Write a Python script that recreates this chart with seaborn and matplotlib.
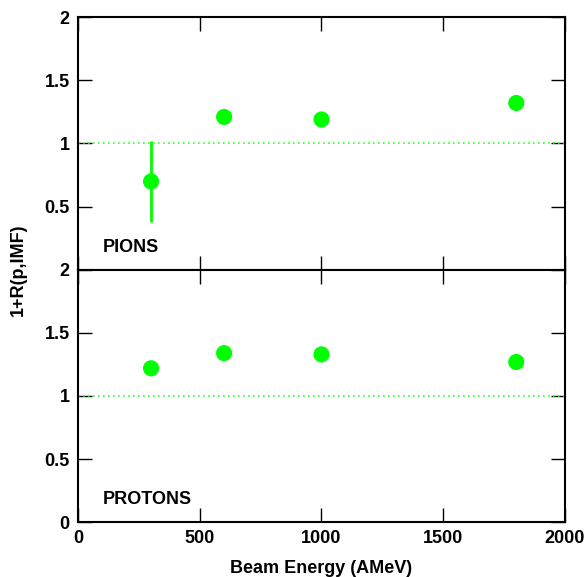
import matplotlib
matplotlib.use("Agg")
import matplotlib.pyplot as plt
import seaborn as sns
import pandas as pd

energy = [300, 600, 1000, 1800]
pions = [0.70, 1.21, 1.19, 1.32]
pions_err = [0.32, 0.0, 0.0, 0.0]
protons = [1.22, 1.34, 1.33, 1.27]
panel_labels = ["PIONS", "PROTONS"]

sns.set_theme(style="white")
plt.rcParams['font.family'] = ['Liberation Sans', 'DejaVu Sans']
plt.rcParams['font.weight'] = 'bold'
plt.rcParams['text.color'] = 'black'
plt.rcParams['xtick.color'] = 'black'
plt.rcParams['ytick.color'] = 'black'
plt.rcParams['axes.labelcolor'] = 'black'

fig = plt.figure(figsize=(5.87, 5.77), dpi=100)
ax1 = fig.add_axes([0.1329, 0.5321, 0.8296, 0.4384])
ax2 = fig.add_axes([0.1329, 0.0953, 0.8296, 0.4368])

green = "#00ff00"
fs = 13
data = [(ax1, pions, pions_err, panel_labels[0]), (ax2, protons, None, panel_labels[1])]
for ax, vals, err, lab in data:
    df = pd.DataFrame({"E": energy, "R": vals})
    ax.axhline(1.0, color="#33ff33", lw=1.2, ls=(0, (1, 2)), zorder=1)
    if err is not None:
        ax.errorbar(energy, vals, yerr=err, fmt="none", ecolor=green, elinewidth=2, capsize=0, zorder=2)
    sns.scatterplot(data=df, x="E", y="R", ax=ax, color=green, s=135, edgecolor="none", zorder=3)
    ax.set_xlim(0, 2000)
    ax.set_ylim(0, 2)
    ax.set_xticks([0, 500, 1000, 1500, 2000])
    ax.set_yticks([0, 0.5, 1, 1.5, 2])
    ax.set_yticklabels(["0", "0.5", "1", "1.5", "2"])
    ax.tick_params(direction="in", length=10, width=1, top=True, right=True, bottom=True, left=True,
                   labelsize=fs, colors="black", pad=6)
    for sp in ax.spines.values():
        sp.set_linewidth(1.5)
        sp.set_color("black")
    ax.set_xlabel("")
    ax.set_ylabel("")
    ax.text(100, 0.18, lab, fontsize=fs, fontweight="bold", va="center", ha="left", color="black")

ax1.set_xticklabels([])
ax1.set_yticklabels(["", "0.5", "1", "1.5", "2"])
ax2.set_xticklabels(["0", "500", "1000", "1500", "2000"])
for ax in (ax1, ax2):
    for t in ax.get_yticklabels() + ax.get_xticklabels():
        t.set_fontweight("bold")
ax2.set_xlabel("Beam Energy (AMeV)", fontsize=fs, fontweight="bold", labelpad=9, color="black")
fig.text(0.032, 0.532, "1+R(p,IMF)", rotation=90, fontsize=fs, fontweight="bold", va="center", ha="center", color="black")

fig.savefig("out.png", dpi=100)
